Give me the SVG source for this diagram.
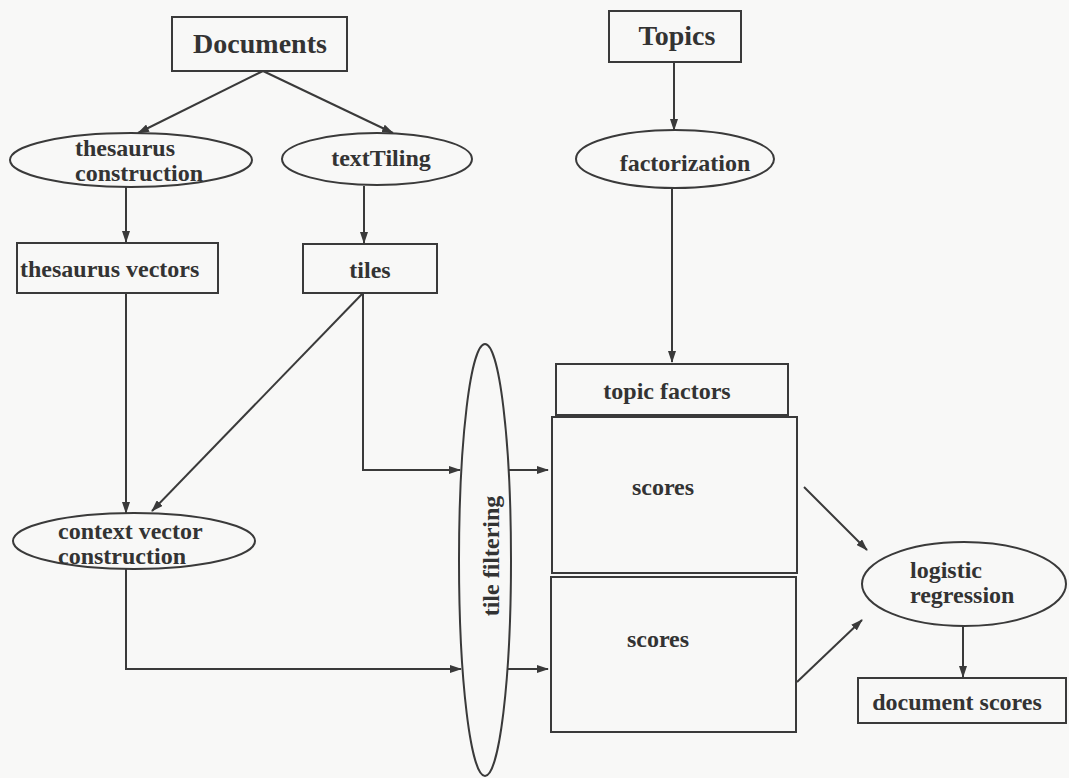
<svg xmlns="http://www.w3.org/2000/svg" width="1069" height="778" viewBox="0 0 1069 778">
<defs>
<marker id="ah" markerWidth="12" markerHeight="8" refX="11" refY="4" orient="auto" markerUnits="userSpaceOnUse">
<path d="M0,0 L12,4 L0,8 Z" fill="#3a3a3a"/>
</marker>
</defs>
<style>
.n{fill:none;stroke:#3a3a3a;stroke-width:2}
text{font-family:'Liberation Serif','DejaVu Serif','Times New Roman',serif;font-weight:bold;font-size:24px;fill:#333}
.big{font-size:28px}
.c{stroke:#3a3a3a;stroke-width:2;fill:none;marker-end:url(#ah)}
</style>
<rect width="1069" height="778" fill="#f8f8f7"/>
<g id="connectors">
<line class="c" x1="263" y1="71" x2="138" y2="133"/>
<line class="c" x1="263" y1="71" x2="393" y2="133"/>
<line class="c" x1="126" y1="187" x2="126" y2="242"/>
<line class="c" x1="364" y1="186" x2="364" y2="243"/>
<line class="c" x1="674" y1="62" x2="674" y2="130"/>
<line class="c" x1="672" y1="188" x2="672" y2="362"/>
<line class="c" x1="126" y1="293" x2="126" y2="513"/>
<line class="c" x1="363" y1="293" x2="152" y2="511"/>
<polyline class="c" points="363,293 363,470 460,470"/>
<line class="c" x1="508" y1="470" x2="548" y2="470"/>
<polyline class="c" points="126,568 126,669 461,669"/>
<line class="c" x1="508" y1="669" x2="548" y2="669"/>
<line class="c" x1="804" y1="487" x2="867" y2="550"/>
<line class="c" x1="797" y1="682" x2="862" y2="620"/>
<line class="c" x1="963" y1="626" x2="963" y2="677"/>
</g>
<g id="documents">
<rect class="n" x="172" y="17" width="175" height="54"/>
<text class="big" x="260" y="53" text-anchor="middle" font-family="Liberation Serif, serif">Documents</text>
</g>
<g id="topics">
<rect class="n" x="609" y="11" width="132" height="51"/>
<text class="big" x="677" y="45" text-anchor="middle" font-family="Liberation Serif, serif">Topics</text>
</g>
<g id="thesaurus-construction">
<ellipse class="n" cx="131" cy="160" rx="121" ry="27"/>
<text x="75" y="156" font-family="Liberation Serif, serif">thesaurus</text>
<text x="75" y="181" font-family="Liberation Serif, serif">construction</text>
</g>
<g id="texttiling">
<ellipse class="n" cx="377" cy="159" rx="95" ry="26"/>
<text x="381" y="166" text-anchor="middle" font-family="Liberation Serif, serif">textTiling</text>
</g>
<g id="factorization">
<ellipse class="n" cx="675" cy="159" rx="99" ry="29"/>
<text x="685" y="171" text-anchor="middle" font-family="Liberation Serif, serif">factorization</text>
</g>
<g id="thesaurus-vectors">
<rect class="n" x="17" y="243" width="201" height="50"/>
<text x="20" y="277" font-family="Liberation Serif, serif">thesaurus vectors</text>
</g>
<g id="tiles">
<rect class="n" x="303" y="244" width="134" height="49"/>
<text x="370" y="278" text-anchor="middle" font-family="Liberation Serif, serif">tiles</text>
</g>
<g id="topic-factors">
<rect class="n" x="556" y="364" width="232" height="51"/>
<text x="667" y="399" text-anchor="middle" font-family="Liberation Serif, serif">topic factors</text>
</g>
<g id="scores-1">
<rect class="n" x="552" y="417" width="245" height="156"/>
<text x="663" y="495" text-anchor="middle" font-family="Liberation Serif, serif">scores</text>
</g>
<g id="scores-2">
<rect class="n" x="551" y="577" width="245" height="155"/>
<text x="658" y="647" text-anchor="middle" font-family="Liberation Serif, serif">scores</text>
</g>
<g id="tile-filtering">
<ellipse class="n" cx="485" cy="560" rx="26" ry="216"/>
<text transform="translate(499,556) rotate(-90)" text-anchor="middle" font-family="Liberation Serif, serif">tile filtering</text>
</g>
<g id="context-vector-construction">
<ellipse class="n" cx="134" cy="541" rx="121" ry="28"/>
<text x="58" y="539" font-family="Liberation Serif, serif">context vector</text>
<text x="58" y="564" font-family="Liberation Serif, serif">construction</text>
</g>
<g id="logistic-regression">
<ellipse class="n" cx="964" cy="584" rx="102" ry="42"/>
<text x="910" y="578" font-family="Liberation Serif, serif">logistic</text>
<text x="910" y="603" font-family="Liberation Serif, serif">regression</text>
</g>
<g id="document-scores">
<rect class="n" x="858" y="678" width="208" height="45"/>
<text x="957" y="710" text-anchor="middle" font-family="Liberation Serif, serif">document scores</text>
</g>
</svg>
